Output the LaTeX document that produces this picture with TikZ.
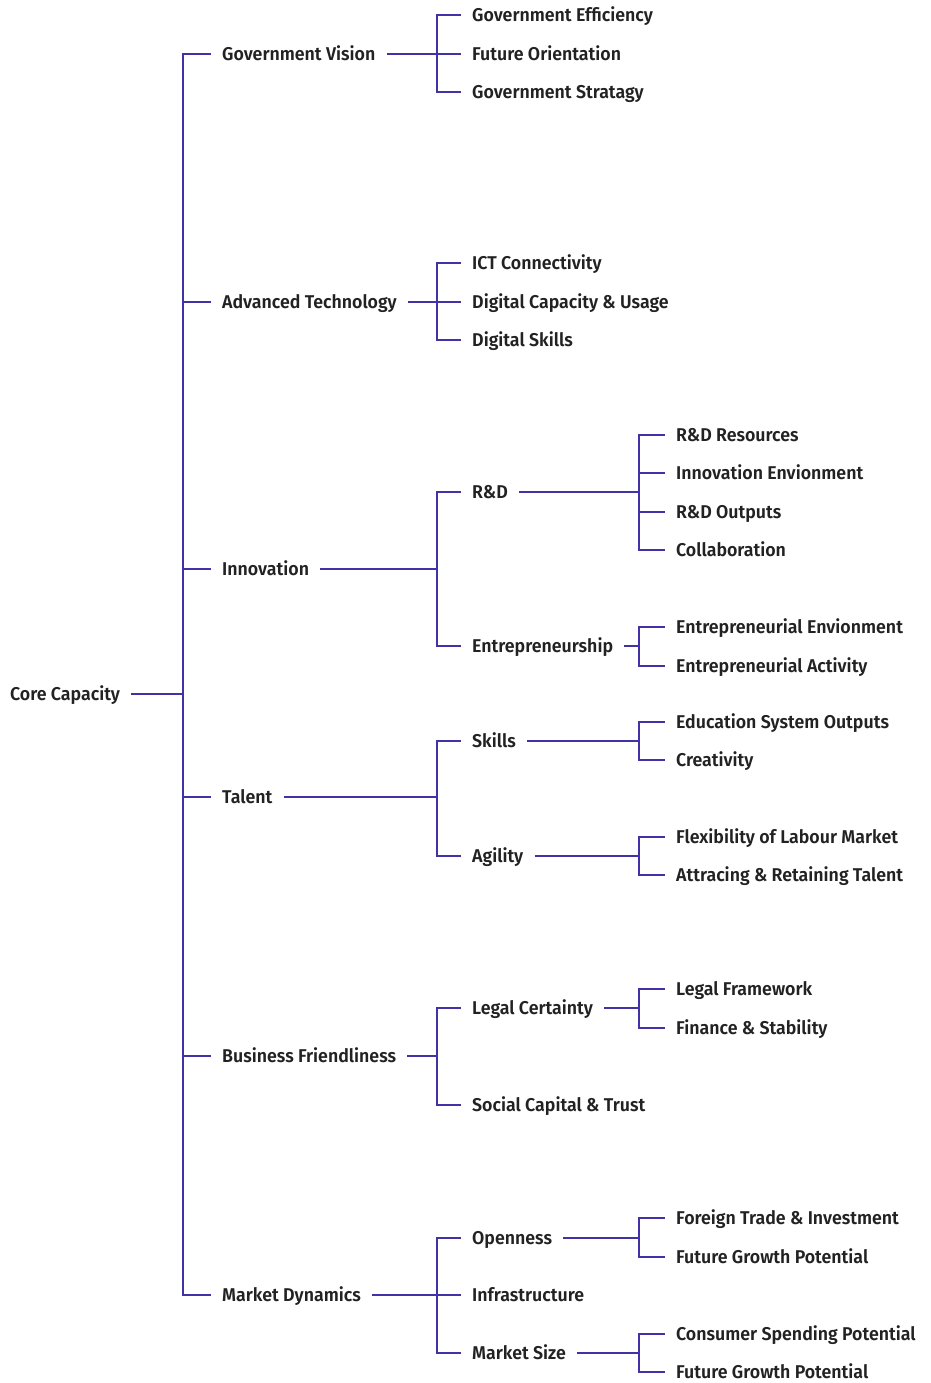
\documentclass[tikz,border=0pt]{standalone}
\usepackage{fontspec}
\setmainfont{Fira Sans}[UprightFont={* SemiBold}, FakeStretch=0.96]
\definecolor{linecol}{RGB}{66,50,168}
\definecolor{txtcol}{RGB}{34,34,34}
\tikzset{
  lbl/.style={anchor=west, inner xsep=11pt, inner ysep=2pt, text height=14pt, text depth=1pt, text=txtcol, font=\fontsize{18.5}{21}\selectfont},
  conn/.style={draw=linecol, line width=1.2pt}
}
\begin{document}
\begin{tikzpicture}[x=1pt,y=-1pt]
\useasboundingbox (0,0) rectangle (930,1383);
% root
\node[lbl] (root) at (-1,694) {Core Capacity};
\coordinate (j0) at (183,694);
% level 1
\node[lbl] (gv) at (211,54) {Government Vision};
\node[lbl] (at) at (211,302) {Advanced Technology};
\node[lbl] (inn) at (211,569) {Innovation};
\node[lbl] (tal) at (211,797) {Talent};
\node[lbl] (bf) at (211,1056) {Business Friendliness};
\node[lbl] (md) at (211,1295) {Market Dynamics};
% junctions level 1
\coordinate (jgv) at (437,54);
\coordinate (jat) at (437,302);
\coordinate (jinn) at (437,569);
\coordinate (jtal) at (437,797);
\coordinate (jbf) at (437,1056);
\coordinate (jmd) at (437,1295);
% level 2
\node[lbl] (ge) at (461,15) {Government Efficiency};
\node[lbl] (fo) at (461,54) {Future Orientation};
\node[lbl] (gs) at (461,92) {Government Stratagy};
\node[lbl] (ict) at (461,263) {ICT Connectivity};
\node[lbl] (dcu) at (461,302) {Digital Capacity \& Usage};
\node[lbl] (ds) at (461,340) {Digital Skills};
\node[lbl] (rd) at (461,492) {R\&D};
\node[lbl] (ent) at (461,646) {Entrepreneurship};
\node[lbl] (sk) at (461,741) {Skills};
\node[lbl] (ag) at (461,856) {Agility};
\node[lbl] (lc) at (461,1008) {Legal Certainty};
\node[lbl] (sct) at (461,1105) {Social Capital \& Trust};
\node[lbl] (op) at (461,1238) {Openness};
\node[lbl] (inf) at (461,1295) {Infrastructure};
\node[lbl] (ms) at (461,1353) {Market Size};
% junctions level 2
\coordinate (jrd) at (639,492);
\coordinate (jent) at (639,646);
\coordinate (jsk) at (639,741);
\coordinate (jag) at (639,856);
\coordinate (jlc) at (639,1008);
\coordinate (jop) at (639,1238);
\coordinate (jms) at (639,1353);
% level 3
\node[lbl] (rdr) at (665,435) {R\&D Resources};
\node[lbl] (ie) at (665,473) {Innovation Envionment};
\node[lbl] (rdo) at (665,512) {R\&D Outputs};
\node[lbl] (col) at (665,550) {Collaboration};
\node[lbl] (ee) at (665,627) {Entrepreneurial Envionment};
\node[lbl] (ea) at (665,666) {Entrepreneurial Activity};
\node[lbl] (eso) at (665,722) {Education System Outputs};
\node[lbl] (cr) at (665,760) {Creativity};
\node[lbl] (flm) at (665,837) {Flexibility of Labour Market};
\node[lbl] (art) at (665,875) {Attracing \& Retaining Talent};
\node[lbl] (lf) at (665,989) {Legal Framework};
\node[lbl] (fs) at (665,1028) {Finance \& Stability};
\node[lbl] (fti) at (665,1218) {Foreign Trade \& Investment};
\node[lbl] (fgp1) at (665,1257) {Future Growth Potential};
\node[lbl] (csp) at (665,1334) {Consumer Spending Potential};
\node[lbl] (fgp2) at (665,1372) {Future Growth Potential};
% connectors
\draw[conn] (root.east) -- (j0);
\foreach \c in {gv,at,inn,tal,bf,md} \draw[conn] (j0) |- (\c.west);
\draw[conn] (gv.east) -- (jgv);
\foreach \c in {ge,fo,gs} \draw[conn] (jgv) |- (\c.west);
\draw[conn] (at.east) -- (jat);
\foreach \c in {ict,dcu,ds} \draw[conn] (jat) |- (\c.west);
\draw[conn] (inn.east) -- (jinn);
\foreach \c in {rd,ent} \draw[conn] (jinn) |- (\c.west);
\draw[conn] (tal.east) -- (jtal);
\foreach \c in {sk,ag} \draw[conn] (jtal) |- (\c.west);
\draw[conn] (bf.east) -- (jbf);
\foreach \c in {lc,sct} \draw[conn] (jbf) |- (\c.west);
\draw[conn] (md.east) -- (jmd);
\foreach \c in {op,inf,ms} \draw[conn] (jmd) |- (\c.west);
\draw[conn] (rd.east) -- (jrd);
\foreach \c in {rdr,ie,rdo,col} \draw[conn] (jrd) |- (\c.west);
\draw[conn] (ent.east) -- (jent);
\foreach \c in {ee,ea} \draw[conn] (jent) |- (\c.west);
\draw[conn] (sk.east) -- (jsk);
\foreach \c in {eso,cr} \draw[conn] (jsk) |- (\c.west);
\draw[conn] (ag.east) -- (jag);
\foreach \c in {flm,art} \draw[conn] (jag) |- (\c.west);
\draw[conn] (lc.east) -- (jlc);
\foreach \c in {lf,fs} \draw[conn] (jlc) |- (\c.west);
\draw[conn] (op.east) -- (jop);
\foreach \c in {fti,fgp1} \draw[conn] (jop) |- (\c.west);
\draw[conn] (ms.east) -- (jms);
\foreach \c in {csp,fgp2} \draw[conn] (jms) |- (\c.west);
\end{tikzpicture}
\end{document}
